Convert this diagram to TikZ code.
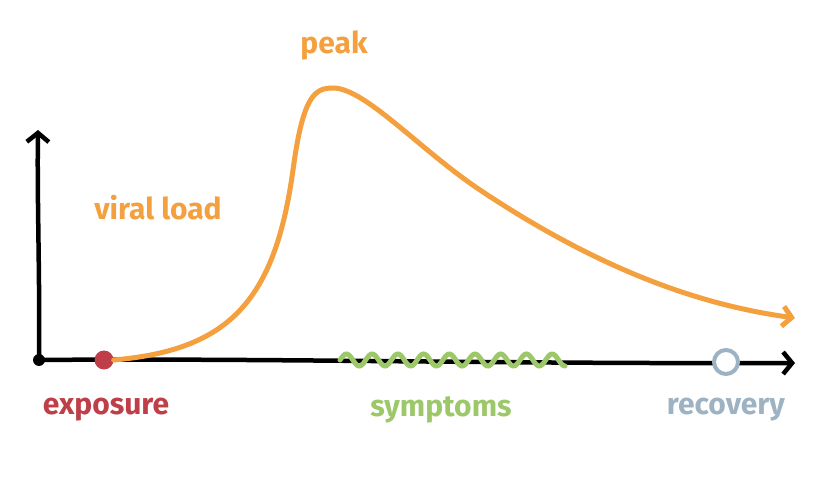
\documentclass[tikz,border=0pt]{standalone}
\usepackage{fontspec}
\setmainfont{Fira Sans}
\usetikzlibrary{arrows.meta}
\definecolor{vorange}{HTML}{F5A03E}
\definecolor{vred}{HTML}{BF3F49}
\definecolor{vgreen}{HTML}{9CC86A}
\definecolor{vblue}{HTML}{9DB3C3}
\tikzset{
  axis/.style={line width=4.5pt, line cap=round, -{Straight Barb[length=9pt,width=22pt]}},
  lbl/.style={font=\fontsize{30}{34}\selectfont\bfseries, inner sep=0pt},
}
\begin{document}
\begin{tikzpicture}[x=1pt,y=-1pt]
\useasboundingbox[fill=white] (0,0) rectangle (820,478);
% axes
\node[circle, fill=black, minimum size=12pt, inner sep=0pt] (origin) at (39,360) {};
\coordinate (ytop) at (38,130);
\coordinate (xend) at (795,363);
\draw[axis] (origin.center) .. controls (40,280) and (37,200) .. (ytop);
\draw[axis] (origin.center) .. controls (250,358) and (500,364) .. (xend);
% symptoms wave
\coordinate (ws) at (340,360);
\draw[vgreen, line width=5pt, line cap=round] (ws) plot[domain=340:565, samples=200] (\x, {360 - 6*sin((\x-340)*14)});
% viral load curve
\node[circle, fill=vred, minimum size=19pt, inner sep=0pt] (exp) at (104,360) {};
\coordinate (vend) at (795,318);
\draw[vorange, line width=5pt, line cap=round, -{Straight Barb[length=9pt,width=20pt]}]
  (exp.east) .. controls (230,350) and (275,300) .. (293,170)
  .. controls (303,95) and (315,88) .. (333,88)
  .. controls (365,88) and (420,150) .. (480,190)
  .. controls (600,270) and (700,305) .. (vend);
% recovery
\node[circle, draw=vblue, fill=white, line width=4pt, minimum size=24pt, inner sep=0pt] (rec) at (726,362) {};
% labels
\node[lbl, text=vorange] (vl) at (158,208) {viral load};
\node[lbl, text=vorange] (pk) at (334,45) {peak};
\node[lbl, text=vred] (ex) at (106,410) {exposure};
\node[lbl, text=vgreen] (sy) at (441,410) {symptoms};
\node[lbl, text=vblue] (rc) at (726,410) {recovery};
\end{tikzpicture}
\end{document}
